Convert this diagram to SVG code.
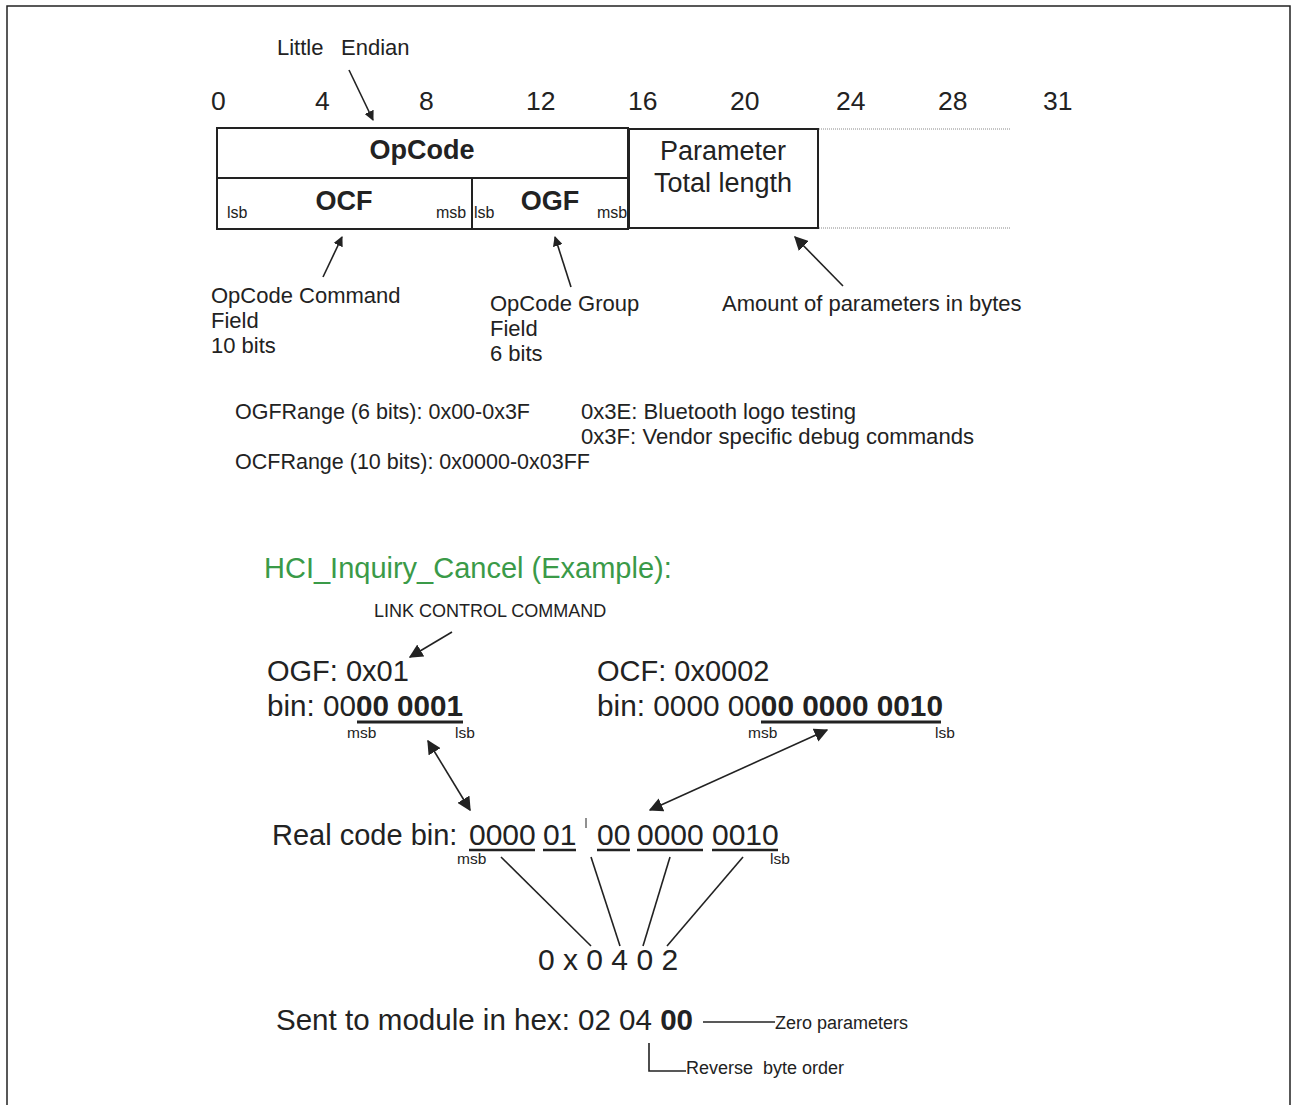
<svg xmlns="http://www.w3.org/2000/svg" width="1291" height="1105" viewBox="0 0 1291 1105">
<defs>
<style>
text{font-family:"Liberation Sans",Arial,sans-serif;fill:#222}
.num{font-size:26.5px}
.n{font-size:27px}
.s{font-size:22px}
.xs{font-size:16px}
.t{font-size:15.5px}
.b{font-weight:bold}
.l{font-size:30px}
.m{font-size:29px}
.box{fill:#fff;stroke:#222;stroke-width:2}
.ln{stroke:#222;stroke-width:1.6;fill:none}
.ul{stroke:#222;stroke-width:3}
.ul2{stroke:#222;stroke-width:2.5}
.dot{stroke:#888;stroke-width:1;stroke-dasharray:1 1}
</style>
<marker id="ah" viewBox="0 0 10 10" refX="9" refY="5" markerWidth="10" markerHeight="10" markerUnits="userSpaceOnUse" orient="auto-start-reverse"><path d="M0,0L10,5L0,10z" fill="#222"/></marker>
<marker id="ah2" viewBox="0 0 10 10" refX="9" refY="5" markerWidth="14" markerHeight="14" markerUnits="userSpaceOnUse" orient="auto-start-reverse"><path d="M0,0L10,5L0,10z" fill="#222"/></marker>
</defs>
<rect width="1291" height="1105" fill="#fff"/>
<path d="M7,1105V6H1290V1105" fill="none" stroke="#222" stroke-width="1.5"/>

<g id="bit-scale">
<text class="num" x="211" y="110">0</text>
<text class="num" x="315" y="110">4</text>
<text class="num" x="419" y="110">8</text>
<text class="num" x="526" y="110">12</text>
<text class="num" x="628" y="110">16</text>
<text class="num" x="730" y="110">20</text>
<text class="num" x="836" y="110">24</text>
<text class="num" x="938" y="110">28</text>
<text class="num" x="1043" y="110">31</text>
</g>
<g id="little-endian"><text class="s" x="277" y="55">Little</text><text class="s" x="341" y="55">Endian</text></g>

<g id="opcode">
<rect class="box" x="217" y="128" width="411" height="50"/>
<text class="n b" x="422" y="159" text-anchor="middle">OpCode</text>
</g>
<g id="ocf">
<rect class="box" x="217" y="178" width="255" height="51"/>
<text class="n b" x="344" y="210" text-anchor="middle">OCF</text>
<text class="xs" x="227" y="218">lsb</text>
<text class="xs" x="436" y="218">msb</text>
</g>
<g id="ogf">
<rect class="box" x="472" y="178" width="156" height="51"/>
<text class="n b" x="550" y="210" text-anchor="middle">OGF</text>
<text class="xs" x="474" y="218">lsb</text>
<text class="xs" x="597" y="218">msb</text>
</g>
<g id="param-length">
<rect class="box" x="629" y="129" width="189" height="99"/>
<text class="n" x="723" y="160" text-anchor="middle">Parameter</text>
<text class="n" x="723" y="192" text-anchor="middle">Total length</text>
<line class="dot" x1="819" y1="129" x2="1010" y2="129"/>
<line class="dot" x1="819" y1="228" x2="1010" y2="228"/>
</g>

<g id="ocf-label">
<text class="s" x="211" y="303">OpCode Command</text>
<text class="s" x="211" y="328">Field</text>
<text class="s" x="211" y="353">10 bits</text>
</g>
<g id="ogf-label">
<text class="s" x="490" y="311">OpCode Group</text>
<text class="s" x="490" y="336">Field</text>
<text class="s" x="490" y="361">6 bits</text>
</g>
<g id="param-label"><text class="s" x="722" y="311">Amount of parameters in bytes</text></g>

<g id="ranges">
<text class="s" x="235" y="419" textLength="295" lengthAdjust="spacingAndGlyphs">OGFRange (6 bits): 0x00-0x3F</text>
<text class="s" x="581" y="419" textLength="275" lengthAdjust="spacingAndGlyphs">0x3E: Bluetooth logo testing</text>
<text class="s" x="581" y="444" textLength="393" lengthAdjust="spacingAndGlyphs">0x3F: Vendor specific debug commands</text>
<text class="s" x="235" y="469" textLength="355" lengthAdjust="spacingAndGlyphs">OCFRange (10 bits): 0x0000-0x03FF</text>
</g>

<g id="example-title"><text x="264" y="578" style="font-size:29px;fill:#3a9a48">HCI_Inquiry_Cancel (Example):</text></g>
<g id="link-control"><text x="374" y="617" style="font-size:18px">LINK CONTROL COMMAND</text></g>

<g id="ogf-example">
<text class="m" x="267" y="681">OGF: 0x01</text>
<text class="m" x="267" y="716" textLength="196" lengthAdjust="spacingAndGlyphs">bin: 00<tspan class="b">00 0001</tspan></text>
<line class="ul" x1="357" y1="722" x2="463" y2="722"/>
<text class="t" x="347" y="738">msb</text>
<text class="t" x="455" y="738">lsb</text>
</g>
<g id="ocf-example">
<text class="m" x="597" y="681">OCF: 0x0002</text>
<text class="m" x="597" y="716" textLength="346" lengthAdjust="spacingAndGlyphs">bin: 0000 00<tspan class="b">00 0000 0010</tspan></text>
<line class="ul" x1="761" y1="722" x2="941" y2="722"/>
<text class="t" x="748" y="738">msb</text>
<text class="t" x="935" y="738">lsb</text>
</g>

<g id="real-code">
<text class="m" x="272" y="845">Real code bin:</text>
<text class="l" x="469" y="845">0000</text>
<text class="l" x="543" y="845">01</text>
<text class="l" x="597" y="845">00</text>
<text class="l" x="637" y="845">0000</text>
<text class="l" x="712" y="845">0010</text>
<line class="ul2" x1="469" y1="850" x2="535" y2="850"/>
<line class="ul2" x1="543" y1="850" x2="576" y2="850"/>
<line class="ul2" x1="597" y1="850" x2="630" y2="850"/>
<line class="ul2" x1="637" y1="850" x2="703" y2="850"/>
<line class="ul2" x1="712" y1="850" x2="778" y2="850"/>
<line x1="586" y1="818" x2="586" y2="828" stroke="#222" stroke-width="1"/>
<text class="t" x="457" y="864">msb</text>
<text class="t" x="770" y="864">lsb</text>
</g>

<g id="hex-code"><text class="l" x="538" y="970">0 x 0 4 0 2</text></g>

<g id="sent">
<text class="m" x="276" y="1030" textLength="417" lengthAdjust="spacingAndGlyphs">Sent to module in hex: 02 04 <tspan class="b">00</tspan></text>
<text x="775" y="1029" style="font-size:18px">Zero parameters</text>
<text x="686" y="1074" style="font-size:18px" xml:space="preserve">Reverse  byte order</text>
</g>

<g id="connectors">
<line class="ln" x1="349" y1="70" x2="373" y2="120" marker-end="url(#ah)"/>
<line class="ln" x1="323" y1="277" x2="342" y2="237" marker-end="url(#ah)"/>
<line class="ln" x1="571" y1="287" x2="555" y2="237" marker-end="url(#ah)"/>
<line class="ln" x1="843" y1="286" x2="795" y2="237" marker-end="url(#ah2)"/>
<line class="ln" x1="452" y1="632" x2="410" y2="657" marker-end="url(#ah2)"/>
<line class="ln" x1="428" y1="741" x2="470" y2="810" marker-start="url(#ah2)" marker-end="url(#ah2)"/>
<line class="ln" x1="827" y1="730" x2="650" y2="810" marker-start="url(#ah2)" marker-end="url(#ah2)"/>
<line class="ln" x1="501" y1="857" x2="591" y2="946"/>
<line class="ln" x1="591" y1="857" x2="620" y2="946"/>
<line class="ln" x1="670" y1="857" x2="643" y2="946"/>
<line class="ln" x1="743" y1="857" x2="667" y2="946"/>
<line class="ln" x1="703" y1="1022" x2="775" y2="1022" stroke-width="1.2"/>
<path class="ln" d="M649,1043V1071H686" stroke-width="1.2"/>
</g>
</svg>
